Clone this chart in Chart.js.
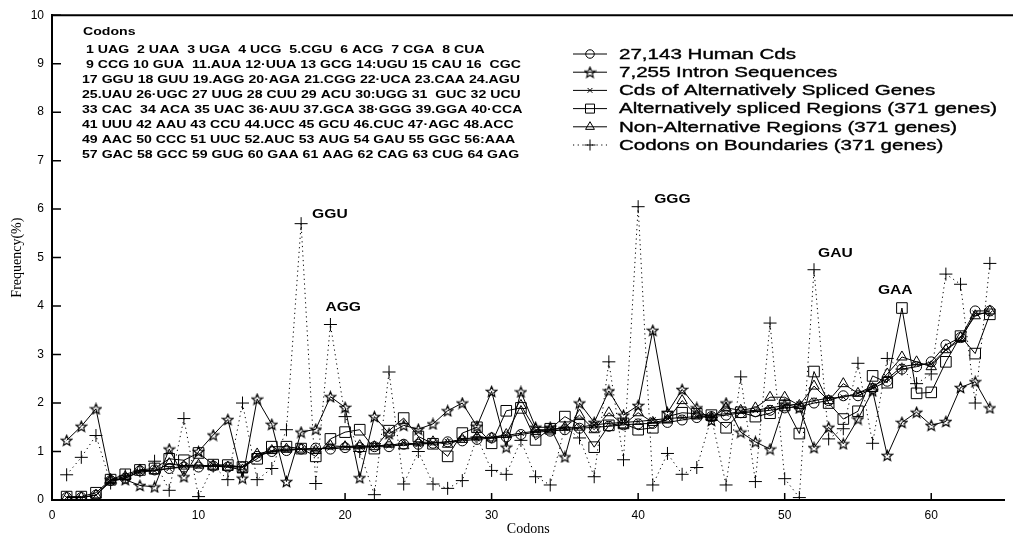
<!DOCTYPE html>
<html>
<head>
<meta charset="utf-8">
<script src="https://cdn.jsdelivr.net/npm/chart.js@4.4.1/dist/chart.umd.min.js"></script>
<style>
  html, body { margin: 0; padding: 0; background: #fff; }
  #wrap { width: 1013px; height: 539px; }
</style>
</head>
<body>
<div id="wrap"><canvas id="codonChart" width="1013" height="539"></canvas></div>
<script>
// codon index 1..64
const codons = [1, 2, 3, 4, 5, 6, 7, 8, 9, 10, 11, 12, 13, 14, 15, 16,
  17, 18, 19, 20, 21, 22, 23, 24, 25, 26, 27, 28, 29, 30, 31, 32,
  33, 34, 35, 36, 37, 38, 39, 40, 41, 42, 43, 44, 45, 46, 47, 48,
  49, 50, 51, 52, 53, 54, 55, 56, 57, 58, 59, 60, 61, 62, 63, 64];

// frequency (%)
const humanCds = [0.05, 0.05, 0.1, 0.4, 0.45, 0.6, 0.62, 0.65, 0.68, 0.68, 0.7, 0.68, 0.68, 0.9, 1.0, 1.02,
  1.05, 1.07, 1.05, 1.08, 1.08, 1.1, 1.1, 1.15, 1.15, 1.17, 1.2, 1.22, 1.25, 1.28, 1.3, 1.35,
  1.4, 1.42, 1.45, 1.48, 1.5, 1.52, 1.55, 1.57, 1.58, 1.6, 1.65, 1.7, 1.72, 1.75, 1.8, 1.82,
  1.85, 1.9, 1.92, 2.0, 2.05, 2.15, 2.15, 2.3, 2.45, 2.7, 2.75, 2.85, 3.2, 3.35, 3.9, 3.9];

const intronSeq = [1.23, 1.52, 1.88, 0.42, 0.42, 0.3, 0.27, 1.05, 0.48, 1.0, 1.34, 1.66, 0.45, 2.08, 1.56, 0.38,
  1.4, 1.46, 2.13, 1.91, 0.46, 1.72, 1.37, 1.54, 1.46, 1.57, 1.84, 2.0, 1.52, 2.24, 1.09, 2.23,
  1.5, 1.5, 0.89, 2.0, 1.6, 2.25, 1.75, 1.95, 3.5, 1.8, 2.28, 1.9, 1.64, 2.0, 1.4, 1.2,
  1.05, 1.98, 1.9, 1.08, 1.5, 1.16, 1.67, 2.25, 0.92, 1.6, 1.81, 1.54, 1.62, 2.32, 2.44, 1.9];

const altGenesCds = [0.05, 0.05, 0.1, 0.38, 0.45, 0.58, 0.6, 0.65, 0.7, 0.7, 0.72, 0.7, 0.68, 0.92, 1.0, 1.03,
  1.05, 1.05, 1.08, 1.1, 1.1, 1.12, 1.12, 1.18, 1.15, 1.18, 1.2, 1.25, 1.27, 1.3, 1.33, 1.38,
  1.42, 1.45, 1.48, 1.5, 1.55, 1.58, 1.6, 1.62, 1.65, 1.68, 1.7, 1.72, 1.75, 1.78, 1.82, 1.85,
  1.9, 1.95, 1.98, 2.05, 2.1, 2.12, 2.2, 2.35, 2.5, 2.75, 2.8, 2.8, 3.1, 3.3, 3.85, 3.85];

const altRegions = [0.07, 0.07, 0.15, 0.42, 0.53, 0.62, 0.65, 0.85, 0.82, 0.97, 0.73, 0.72, 0.68, 0.85, 1.1, 1.1,
  1.06, 0.9, 1.26, 1.4, 1.45, 1.06, 1.43, 1.69, 1.31, 1.16, 0.9, 1.38, 1.5, 1.17, 1.84, 1.9,
  1.24, 1.47, 1.72, 1.55, 1.09, 1.54, 1.58, 1.45, 1.49, 1.72, 1.8, 1.78, 1.75, 1.49, 1.81, 1.72,
  1.79, 1.95, 1.37, 2.65, 2.0, 1.67, 1.83, 2.56, 2.42, 3.96, 2.2, 2.22, 2.85, 3.38, 3.02, 3.83];

const nonAltRegions = [0.05, 0.05, 0.1, 0.42, 0.48, 0.62, 0.6, 0.75, 0.7, 0.72, 0.7, 0.68, 0.62, 0.95, 1.02, 1.05,
  1.05, 1.02, 1.12, 1.1, 1.12, 1.1, 1.15, 1.12, 1.18, 1.2, 1.15, 1.25, 1.3, 1.28, 1.35, 1.95,
  1.45, 1.45, 1.5, 1.75, 1.45, 1.8, 1.55, 1.8, 1.6, 1.65, 2.05, 1.75, 1.7, 1.9, 1.85, 1.9,
  2.12, 2.12, 1.95, 2.35, 2.05, 2.4, 2.2, 2.3, 2.6, 2.95, 2.85, 2.75, 3.1, 3.35, 3.8, 3.9];

const boundaryCodons = [0.52, 0.88, 1.33, 0.35, 0.5, 0.6, 0.8, 0.2, 1.68, 0.07, 0.7, 0.42, 2.0, 0.42, 0.65, 1.45,
  5.7, 0.34, 3.62, 1.72, 1.0, 0.11, 2.64, 0.33, 1.0, 0.33, 0.24, 0.4, 1.3, 0.61, 0.53, 1.23,
  0.48, 0.31, 1.5, 1.28, 0.48, 2.85, 0.83, 6.05, 0.31, 0.96, 0.53, 0.67, 1.7, 0.31, 2.54, 0.38,
  3.65, 0.44, 0.05, 4.75, 1.26, 1.47, 2.82, 1.17, 2.92, 2.7, 2.4, 2.6, 4.66, 4.45, 2.0, 4.88];

const seriesLabels = ['27,143 Human Cds', '7,255 Intron Sequences', 'Cds of Alternatively Spliced Genes',
  'Alternatively spliced Regions (371 genes)', 'Non-Alternative Regions (371 genes)', 'Codons on Boundaries (371 genes)'];

// peak annotations: text, codon, series index
const peakText = ['GGU', 'AGG', 'GGG', 'GAU', 'GAA'];
const peakCodon = [17, 19, 40, 52, 58];
const peakSeries = [5, 5, 5, 5, 3];

const codonTable = [
  '1 UAG  2 UAA  3 UGA  4 UCG  5.CGU  6 ACG  7 CGA  8 CUA',
  '9 CCG 10 GUA  11.AUA 12·UUA 13 GCG 14:UGU 15 CAU 16  CGC',
  '17 GGU 18 GUU 19.AGG 20·AGA 21.CGG 22·UCA 23.CAA 24.AGU',
  '25.UAU 26·UGC 27 UUG 28 CUU 29 ACU 30:UGG 31  GUC 32 UCU',
  '33 CAC  34 ACA 35 UAC 36·AUU 37.GCA 38·GGG 39.GGA 40·CCA',
  '41 UUU 42 AAU 43 CCU 44.UCC 45 GCU 46.CUC 47·AGC 48.ACC',
  '49 AAC 50 CCC 51 UUC 52.AUC 53 AUG 54 GAU 55 GGC 56:AAA',
  '57 GAC 58 GCC 59 GUG 60 GAA 61 AAG 62 CAG 63 CUG 64 GAG'
];


function toPoints(vals) {
  return codons.map(function (c, i) { return { x: c, y: vals[i] }; });
}

// hollow five point star marker
function makeStar(size) {
  let c = document.createElement('canvas');
  c.width = size; c.height = size;
  let g = c.getContext('2d');
  let cx = size / 2, cy = size / 2 + 0.5, ro = size / 2 - 1, ri = ro * 0.45;
  g.beginPath();
  for (let k = 0; k < 10; k++) {
    let r = k % 2 ? ri : ro;
    let a = -Math.PI / 2 + k * Math.PI / 5;
    g.lineTo(cx + r * Math.cos(a), cy + r * Math.sin(a));
  }
  g.closePath();
  g.strokeStyle = '#000';
  g.lineWidth = 1.2;
  g.stroke();
  return c;
}
const starMarker = makeStar(13);

function stretchText(ctx, text, x, y, sx, heavy) {
  ctx.save();
  ctx.translate(x, y);
  ctx.scale(sx, 1);
  ctx.fillText(text, 0, 0);
  if (heavy) {
    ctx.lineWidth = heavy;
    ctx.strokeText(text, 0, 0);
  }
  ctx.restore();
}


// inner tick marks + top frame line
const frameTicks = {
  id: 'frameTicks',
  afterDraw(chart) {
    let ctx = chart.ctx, area = chart.chartArea, sx = chart.scales.x, sy = chart.scales.y;
    ctx.save();
    ctx.strokeStyle = '#000';
    ctx.lineWidth = 2;
    ctx.beginPath();
    ctx.moveTo(area.left - 1, area.top);
    ctx.lineTo(chart.width, area.top);
    ctx.stroke();
    ctx.lineWidth = 1.5;
    ctx.beginPath();
    sy.ticks.forEach(function (t) {
      let y = sy.getPixelForValue(t.value);
      ctx.moveTo(area.left, y);
      ctx.lineTo(area.left + 9, y);
    });
    sx.ticks.forEach(function (t) {
      let x = sx.getPixelForValue(t.value);
      ctx.moveTo(x, area.bottom);
      ctx.lineTo(x, area.bottom - 7);
    });
    ctx.stroke();
    ctx.restore();
  }
};

// codon lookup table in upper left
const codonBox = {
  id: 'codonBox',
  afterDraw(chart) {
    let ctx = chart.ctx;
    ctx.save();
    ctx.fillStyle = '#000';
    ctx.textBaseline = 'middle';
    ctx.font = 'bold 10px "Liberation Sans", Arial, sans-serif';
    let sx = 438 / ctx.measureText(codonTable[2]).width;
    stretchText(ctx, 'Codons', 83, 32, sx);
    codonTable.forEach(function (row, i) {
      stretchText(ctx, row, i < 2 ? 86 : 82, 50 + i * 15, sx);
    });
    ctx.restore();
  }
};

// legend: line sample with hollow marker in the middle
const lineLegend = {
  id: 'lineLegend',
  afterDraw(chart) {
    let ctx = chart.ctx;
    ctx.save();
    ctx.font = '14px "Liberation Sans", Arial, sans-serif';
    ctx.textBaseline = 'middle';
    let sx = 378 / ctx.measureText(seriesLabels[3]).width;
    chart.data.datasets.forEach(function (ds, i) {
      let y = 54 + i * 18.2;
      ctx.save();
      ctx.strokeStyle = '#000';
      ctx.lineWidth = 1;
      ctx.setLineDash(ds.borderDash || []);
      ctx.beginPath();
      ctx.moveTo(573, y);
      ctx.lineTo(607, y);
      ctx.stroke();
      ctx.setLineDash([]);
      ctx.fillStyle = 'rgba(0,0,0,0)';
      Chart.helpers.drawPoint(ctx, {
        pointStyle: ds.pointStyle, radius: ds.pointRadius * 0.85, rotation: 0, borderWidth: 1
      }, 590, y);
      ctx.restore();
      ctx.fillStyle = '#000';
      ctx.strokeStyle = '#000';
      stretchText(ctx, ds.label, 619, y + 1, sx, 0.35);
    });
    ctx.restore();
  }
};

// peak codon names next to their marks
const peakNotes = {
  id: 'peakNotes',
  afterDraw(chart) {
    let ctx = chart.ctx, sx = chart.scales.x, sy = chart.scales.y;
    let shift = [[11, -9], [-5, -17], [16, -7], [4, -16], [-24, -18]];
    ctx.save();
    ctx.font = 'bold 13px "Liberation Sans", Arial, sans-serif';
    ctx.fillStyle = '#000';
    ctx.textBaseline = 'middle';
    peakText.forEach(function (t, i) {
      let ds = chart.data.datasets[peakSeries[i]];
      let v = ds.data[peakCodon[i] - 1].y;
      let x = sx.getPixelForValue(peakCodon[i]) + shift[i][0];
      let y = sy.getPixelForValue(v) + shift[i][1];
      stretchText(ctx, t, x, y, 1.2);
    });
    ctx.restore();
  }
};


document.addEventListener('DOMContentLoaded', function () {

  let base = {
    borderColor: '#000',
    borderWidth: 1,
    pointBorderColor: '#000',
    pointBackgroundColor: 'rgba(0,0,0,0)',
    pointBorderWidth: 1,
    tension: 0,
    fill: false
  };

  let ctx = document.getElementById('codonChart').getContext('2d');
  let codonChart = new Chart(ctx, {
    type: 'line',
    data: {
      datasets: [
        Object.assign({}, base, { label: seriesLabels[0], data: toPoints(humanCds), pointStyle: 'circle', pointRadius: 5 }),
        Object.assign({}, base, { label: seriesLabels[1], data: toPoints(intronSeq), pointStyle: starMarker, pointRadius: 6 }),
        Object.assign({}, base, { label: seriesLabels[2], data: toPoints(altGenesCds), pointStyle: 'crossRot', pointRadius: 4 }),
        Object.assign({}, base, { label: seriesLabels[3], data: toPoints(altRegions), pointStyle: 'rect', pointRadius: 7.5 }),
        Object.assign({}, base, { label: seriesLabels[4], data: toPoints(nonAltRegions), pointStyle: 'triangle', pointRadius: 6 }),
        Object.assign({}, base, { label: seriesLabels[5], data: toPoints(boundaryCodons), pointStyle: 'cross', pointRadius: 6.5, borderDash: [1.2, 3.5] })
      ]
    },
    options: {
      responsive: false,
      animation: false,
      layout: { padding: { top: 13, right: 2, left: 0, bottom: 0 } },
      plugins: { legend: { display: false }, tooltip: { enabled: false } },
      scales: {
        x: {
          type: 'linear',
          min: 0,
          max: 65,
          afterFit: function (s) { s.height = 39; },
          grid: { display: false, drawTicks: false },
          border: { display: true, color: '#000', width: 2 },
          ticks: { stepSize: 10, includeBounds: false, padding: 8, color: '#000',
            font: { family: '"Liberation Sans", Arial, sans-serif', size: 12 } },
          title: { display: true, text: 'Codons', color: '#000', padding: { top: 0, bottom: 1 },
            font: { family: '"Liberation Serif", "Times New Roman", serif', size: 14 } }
        },
        y: {
          min: 0,
          max: 10,
          afterFit: function (s) { s.width = 52; },
          grid: { display: false, drawTicks: false },
          border: { display: true, color: '#000', width: 2 },
          ticks: { stepSize: 1, padding: 8, color: '#000',
            font: { family: '"Liberation Sans", Arial, sans-serif', size: 12 } },
          title: { display: true, text: 'Frequency(%)', color: '#000', padding: { top: 9, bottom: 0 },
            font: { family: '"Liberation Serif", "Times New Roman", serif', size: 14 } }
        }
      }
    },
    plugins: [frameTicks, codonBox, lineLegend, peakNotes]
  });

});
</script>
</body>
</html>
